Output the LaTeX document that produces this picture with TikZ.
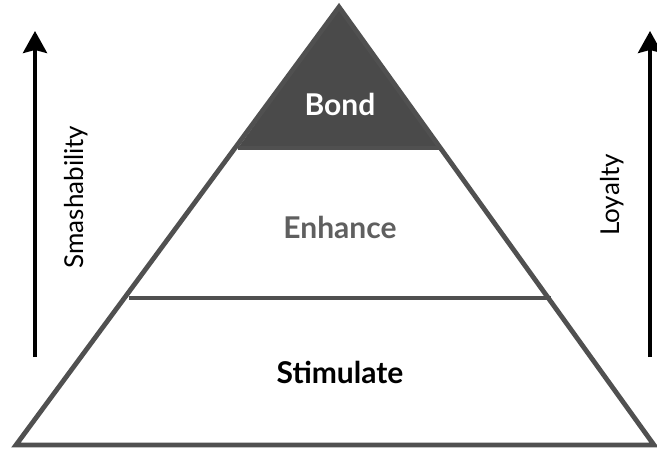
\documentclass[tikz,border=0pt]{standalone}
\usepackage{fontspec}
\setmainfont{Lato}
\usetikzlibrary{arrows.meta}

\definecolor{pyrgray}{RGB}{80,80,80}
\definecolor{bondgray}{RGB}{74,74,74}
\definecolor{enhgray}{RGB}{95,95,95}

\tikzset{
  edge/.style={draw=pyrgray, line width=4.8pt, line join=miter},
  scalearrow/.style={line width=3.6pt, -{Stealth[length=22pt,width=24pt,inset=3pt]}},
  level/.style={font=\fontsize{30}{30}\selectfont\bfseries},
  side/.style={font=\fontsize{26}{26}\selectfont, rotate=90}
}

\begin{document}
\begin{tikzpicture}[x=1pt, y=-1pt]
\useasboundingbox (0,0) rectangle (657,452);

% pyramid corners
\coordinate (top) at (339,7);
\coordinate (bl) at (16,445);
\coordinate (br) at (654,445);
\coordinate (ml) at (129,298);
\coordinate (mr) at (551,298);
\coordinate (tl) at (238,148);
\coordinate (tr) at (442,148);

\fill[bondgray] (top) -- (tl) -- (tr) -- cycle;
\draw[edge] (top) -- (bl) -- (br) -- cycle;
\draw[edge] (tl) -- (tr);
\draw[edge] (ml) -- (mr);

\node[level, white] (bond) at (340,104) {Bond};
\node[level, enhgray] (enhance) at (340,227) {Enhance};
\node[level] (stimulate) at (340,372) {Stimulate};

% side scales
\coordinate (lfoot) at (35,357);
\coordinate (lhead) at (35,31);
\coordinate (rfoot) at (650,357);
\coordinate (rhead) at (650,31);
\draw[scalearrow] (lfoot) -- (lhead);
\draw[scalearrow] (rfoot) -- (rhead);

\node[side] (smash) at (76,197) {Smashability};
\node[side] (loyal) at (612,195) {Loyalty};

\end{tikzpicture}
\end{document}
